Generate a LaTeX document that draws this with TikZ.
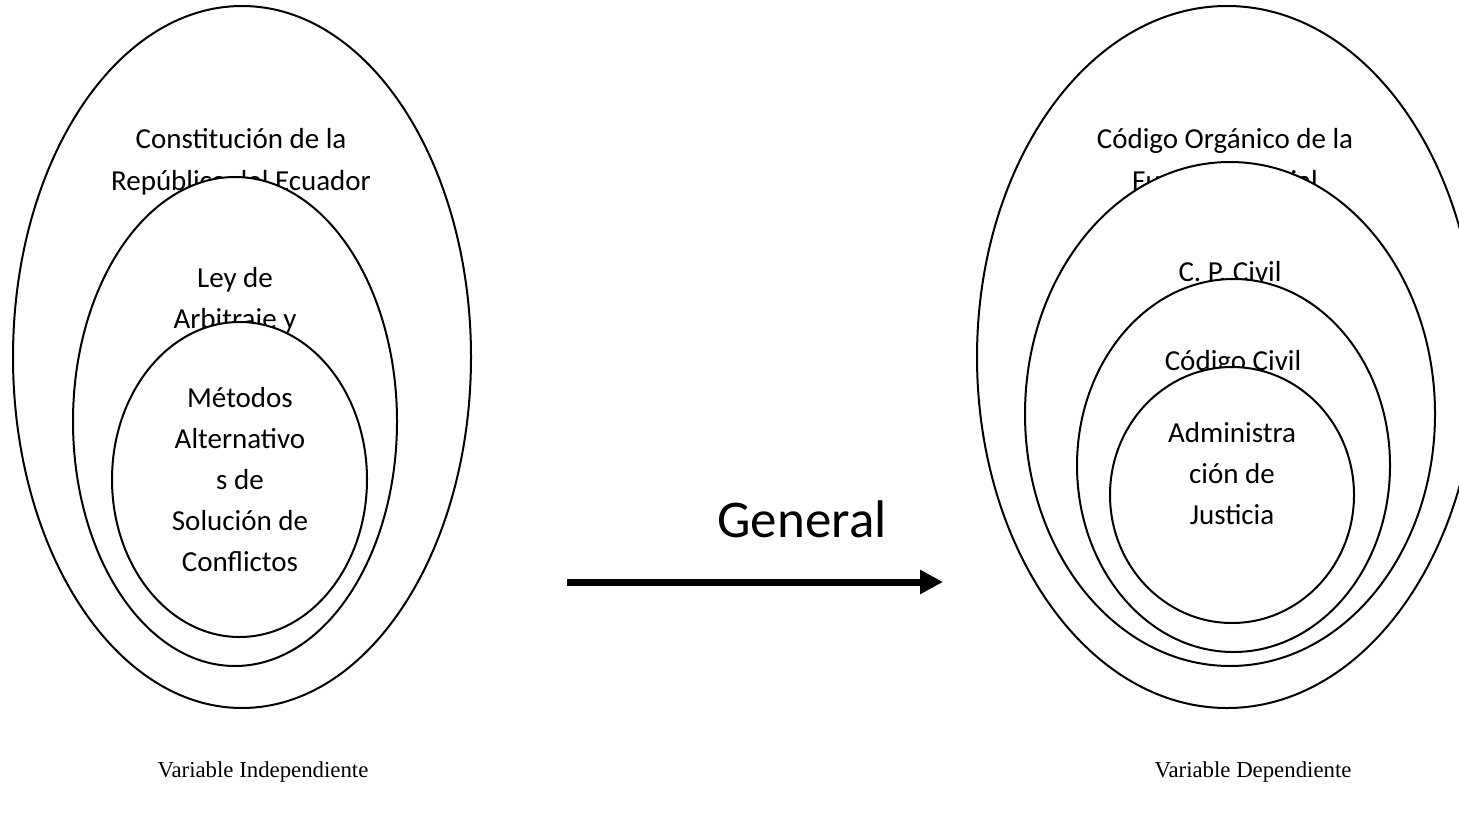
\documentclass[tikz,border=0pt]{standalone}
\usepackage{fontspec}
\newfontfamily\calibri{Carlito}
\newfontfamily\timesf{Liberation Serif}
\usetikzlibrary{shapes.geometric,arrows.meta}
\begin{document}
\begin{tikzpicture}[x=0.5pt,y=-0.5pt,
  ring/.style={ellipse, draw, line width=1pt, fill=white, inner sep=0pt, outer sep=0pt},
  lbl/.style={font=\calibri\fontsize{14.5}{17}\selectfont, inner sep=0pt, anchor=base},
  bigl/.style={font=\calibri\fontsize{26.5}{31}\selectfont, inner sep=0pt, anchor=base},
  caption/.style={font=\timesf\fontsize{11.4}{13}\selectfont, inner sep=0pt, anchor=base},
  genarrow/.style={line width=3.5pt, -{Triangle[length=11.5pt,width=11.5pt]}}]
\useasboundingbox (0,0) rectangle (1459,818);
\fill[white] (0,0) rectangle (1459,818);

% ---------- left group ----------
\node[ring, minimum width=229pt, minimum height=351pt] (Lout) at (242,357) {};
\node[lbl] (L1a) at (241,149) {Constitución de la};
\node[lbl] (L1b) at (241,191) {República del Ecuador};
\node[ring, minimum width=162pt, minimum height=244.5pt] (Lmid) at (235,421.5) {};
\node[lbl] (L2a) at (235,287) {Ley de};
\node[lbl] (L2b) at (235,328) {Arbitraje y};
\node[ring, minimum width=127.5pt, minimum height=157.5pt] (Lin) at (239.5,479.5) {};
\node[lbl] (L3a) at (240,407) {Métodos};
\node[lbl] (L3b) at (240,448) {Alternativo};
\node[lbl] (L3c) at (240,489) {s de};
\node[lbl] (L3d) at (240,530) {Solución de};
\node[lbl] (L3e) at (240,571) {Conflictos};

% ---------- right group ----------
\node[ring, minimum width=250pt, minimum height=351pt] (Rout) at (1227,357) {};
\node[lbl] (R1a) at (1225,149) {Código Orgánico de la};
\node[lbl] (R1b) at (1225,191) {Función Judicial};
\node[ring, minimum width=205pt, minimum height=252pt] (Rcp) at (1230,414) {};
\node[lbl] (R2) at (1230,281) {C. P. Civil};
\node[ring, minimum width=156.5pt, minimum height=186.5pt] (Rcc) at (1233.5,465.5) {};
\node[lbl] (R3) at (1233,370) {Código Civil};
\node[ring, minimum width=122pt, minimum height=128pt] (Radm) at (1232,495) {};
\node[lbl] (R4a) at (1232,442) {Administra};
\node[lbl] (R4b) at (1232,483) {ción de};
\node[lbl] (R4c) at (1232,524) {Justicia};

% ---------- arrow ----------
\node[bigl] (gen) at (802,537) {General};
\coordinate (arrS) at (567,582);
\coordinate (arrE) at (943,582);
\draw[genarrow] (arrS) -- (arrE);

% ---------- captions ----------
\node[caption] (capL) at (263,777) {Variable Independiente};
\node[caption] (capR) at (1253,777) {Variable Dependiente};
\end{tikzpicture}
\end{document}
